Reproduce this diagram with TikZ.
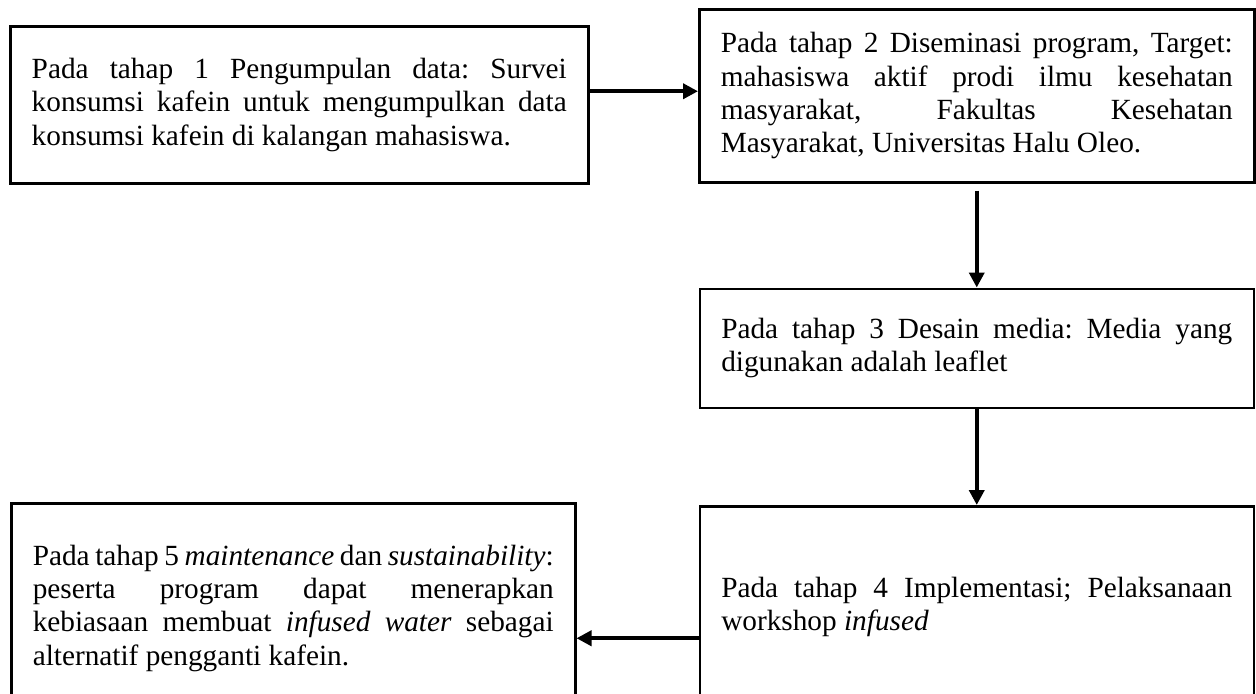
\documentclass[tikz,border=0pt]{standalone}
\usepackage{fontspec}
\setmainfont{Liberation Serif}
\usepackage{tikz}
\usetikzlibrary{
  arrows.meta,
  positioning
}
\newdimen\pxu
\pxu=0.42pt
\tolerance=10000
\hbadness=10000
\hyphenpenalty=10000
\frenchspacing

\begin{document}
\begin{tikzpicture}[
  x=0.42pt, y=-0.42pt,
  stage/.style={
    draw, line width=1.05pt, anchor=north west,
    inner xsep=21.5\pxu, inner ysep=0pt, align=justify,
    font=\fontsize{12.3pt}{14pt}\selectfont\frenchspacing
  },
  flow/.style={-{Triangle[length=6.3pt, width=6.3pt]}, line width=1.55pt}
]
  \useasboundingbox (0,0) rectangle (1256,694);
  \clip (0,0) rectangle (1256,694);

  % ── Stage boxes ──
  \node[stage, text width=535\pxu, minimum height=157\pxu] (s1) at (9,25)
    {Pada tahap 1 Pengumpulan data: Survei\linebreak
     konsumsi kafein untuk mengumpulkan data\linebreak
     konsumsi kafein di kalangan mahasiswa.};
  \node[stage, text width=512\pxu, minimum height=173\pxu] (s2) at (698,8)
    {Pada tahap 2 Diseminasi program, Target:\linebreak
     mahasiswa aktif prodi ilmu kesehatan\linebreak
     masyarakat, Fakultas Kesehatan\linebreak
     Masyarakat, Universitas Halu Oleo.};
  \node[stage, text width=511\pxu, minimum height=119\pxu, below=104\pxu of s2] (s3)
    {Pada tahap 3 Desain media: Media yang\linebreak
     digunakan adalah leaflet};
  \node[stage, text width=511\pxu, minimum height=202\pxu, below=96\pxu of s3] (s4)
    {Pada tahap 4 Implementasi; Pelaksanaan\linebreak
     workshop \emph{infused}};
  \node[stage, text width=521\pxu, minimum height=210\pxu] (s5) at (10,502)
    {Pada tahap 5 \emph{maintenance} dan \emph{sustainability}:\linebreak
     peserta program dapat menerapkan\linebreak
     kebiasaan membuat \emph{infused water} sebagai\linebreak
     alternatif pengganti kafein.};

  % ── Flow arrows ──
  \coordinate (a12) at ([yshift=13.5\pxu]s1.east);
  \coordinate (a45) at ([yshift=-31\pxu]s4.west);
  \draw[flow] (a12) -- (a12 -| s2.west);
  \draw[flow] ([yshift=-7\pxu]s2.south) -- (s3.north);
  \draw[flow] (s3.south) -- (s4.north);
  \draw[flow] (a45) -- (a45 -| s5.east);

\end{tikzpicture}
\end{document}
